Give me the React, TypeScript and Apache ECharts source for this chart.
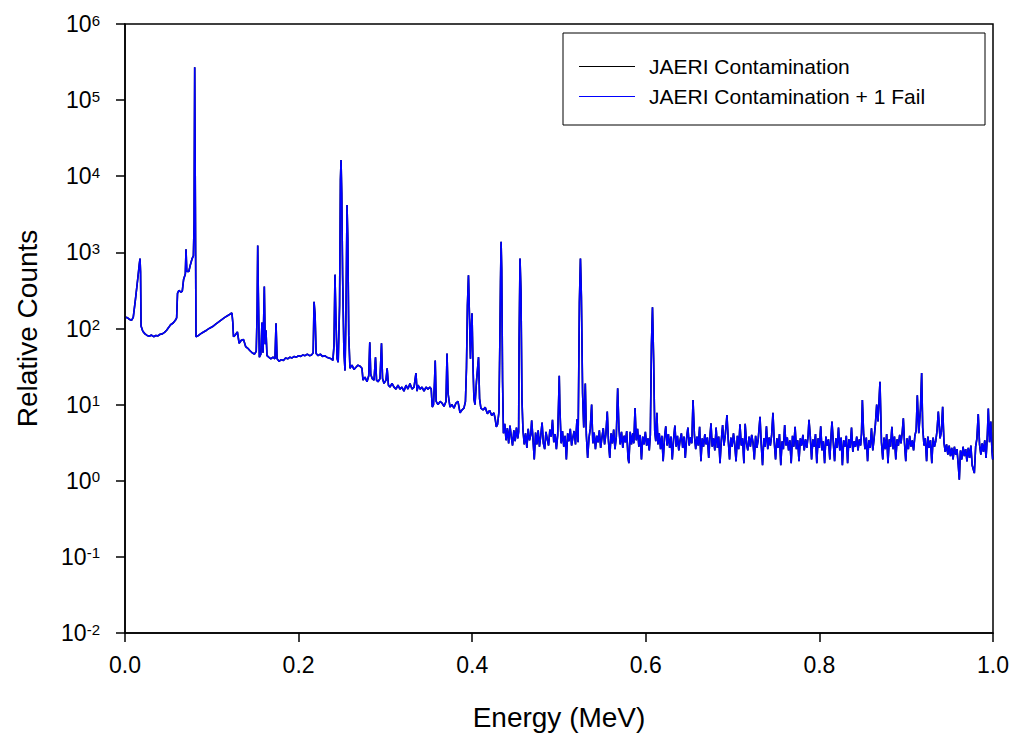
import React, { useEffect, useRef } from "react";
import * as echarts from "echarts";

const seriesNames = ["JAERI Contamination", "JAERI Contamination + 1 Fail"];
const xAxisTitle = "Energy (MeV)";
const yAxisTitle = "Relative Counts";

// Energy (MeV), relative counts — low-energy part of the spectrum
const lowEnergyPart: [number, number][] = [
  [0.001, 140], [0.003, 138], [0.0055, 131], [0.0075, 128], [0.0095, 140], [0.012, 240], [0.0145, 430], [0.0165, 700],
  [0.0173, 830], [0.0179, 560], [0.0185, 108], [0.0205, 92], [0.023, 85], [0.0255, 81], [0.028, 79], [0.0305, 82],
  [0.033, 78], [0.0355, 81], [0.038, 80], [0.0405, 84], [0.043, 85], [0.0455, 89], [0.048, 95], [0.05, 102],
  [0.0525, 112], [0.0555, 118], [0.058, 128], [0.0595, 138], [0.0605, 290], [0.062, 316], [0.0645, 300], [0.066, 310],
  [0.0675, 440], [0.0695, 520], [0.0703, 1100], [0.0712, 560], [0.0735, 560], [0.0755, 700], [0.0772, 820], [0.0788, 900],
  [0.0796, 2400], [0.0803, 270000], [0.0811, 4000], [0.0818, 78], [0.084, 80], [0.087, 85], [0.0905, 90], [0.094, 95],
  [0.0975, 101], [0.101, 106], [0.1045, 114], [0.108, 122], [0.1115, 131], [0.115, 140], [0.1185, 148], [0.1215, 156],
  [0.1232, 160], [0.1242, 120], [0.125, 78], [0.127, 82], [0.1295, 90], [0.1315, 64], [0.134, 70], [0.1365, 72],
  [0.139, 58], [0.1415, 55], [0.144, 51], [0.1465, 48], [0.149, 46], [0.1512, 50], [0.1522, 160], [0.1529, 1230],
  [0.1536, 300], [0.1548, 42], [0.1565, 46], [0.1578, 120], [0.159, 48], [0.1605, 356], [0.1615, 62], [0.1624, 95],
  [0.1636, 44], [0.1656, 42], [0.168, 40], [0.1705, 42], [0.1728, 40], [0.174, 117], [0.1752, 40], [0.1775, 37],
  [0.18, 39], [0.1825, 38], [0.185, 41], [0.1875, 40], [0.19, 42], [0.1925, 41], [0.195, 43], [0.1975, 42],
  [0.2, 44], [0.2025, 43], [0.205, 45], [0.2075, 44], [0.21, 46], [0.2125, 44], [0.215, 45], [0.2168, 48],
  [0.2178, 225], [0.219, 150], [0.2202, 47], [0.2225, 44], [0.225, 46], [0.2275, 43], [0.23, 44], [0.2325, 42],
  [0.235, 41], [0.2375, 40], [0.2395, 38], [0.2408, 60], [0.2419, 510], [0.2431, 120], [0.2444, 40], [0.2456, 36],
  [0.2472, 200], [0.2482, 9000], [0.2489, 16300], [0.2497, 6000], [0.2507, 500], [0.2522, 50], [0.2535, 28], [0.2547, 200],
  [0.2558, 4200], [0.2567, 1500], [0.2578, 80], [0.2592, 30], [0.2615, 33], [0.2638, 29], [0.2661, 31], [0.2684, 33],
  [0.2707, 32], [0.273, 30], [0.2742, 21], [0.2765, 23], [0.2788, 20], [0.2808, 24], [0.282, 66], [0.2831, 25],
  [0.2848, 22], [0.2869, 21], [0.2886, 42], [0.2898, 21], [0.2915, 20], [0.2938, 22], [0.2955, 64], [0.2967, 22],
  [0.2984, 19], [0.3007, 21], [0.302, 30], [0.3035, 18], [0.3053, 17], [0.3076, 19], [0.3099, 17], [0.3122, 16],
  [0.3145, 18], [0.3168, 16], [0.319, 17], [0.3214, 15], [0.3237, 18], [0.326, 16], [0.3283, 19], [0.3306, 16],
  [0.333, 17], [0.3352, 26], [0.3365, 15], [0.3376, 18], [0.34, 16], [0.3422, 17], [0.3445, 15], [0.3468, 17],
  [0.349, 16], [0.3514, 17], [0.3528, 16], [0.354, 9.3], [0.3554, 10], [0.3566, 20], [0.3574, 38], [0.3585, 11],
  [0.3606, 10], [0.363, 11], [0.3652, 10.5], [0.3675, 9.5], [0.3698, 11], [0.371, 47], [0.3722, 14], [0.3744, 9.3],
  [0.3767, 10], [0.379, 9], [0.3813, 10.5], [0.3836, 11], [0.386, 7.8], [0.3882, 8.5], [0.3905, 9], [0.3922, 11],
  [0.3934, 30], [0.3945, 200], [0.3957, 500], [0.3968, 150], [0.398, 40], [0.3989, 100], [0.3998, 158], [0.401, 30],
  [0.402, 12], [0.4032, 10], [0.4049, 20], [0.4073, 42], [0.4085, 12], [0.41, 9], [0.4125, 8.5], [0.415, 9.2],
  [0.4175, 7.6], [0.42, 8.4], [0.4225, 7.2], [0.425, 7.8], [0.4265, 6.5], [0.4278, 5.1], [0.4292, 5.5], [0.4308, 8],
  [0.4318, 60], [0.4326, 400], [0.4333, 1380], [0.434, 600], [0.435, 20],
];

// Energy (MeV), relative counts — high-energy part of the spectrum
const highEnergyPart: [number, number][] = [
  [0.436, 4.2], [0.4375, 5.6], [0.439, 3.4], [0.4405, 4.9], [0.442, 3.1], [0.4435, 5.3], [0.445, 3.8], [0.4465, 2.9],
  [0.448, 4.6], [0.4495, 3.3], [0.451, 5.0], [0.4525, 3.6], [0.4535, 4.4], [0.454, 60], [0.4551, 830], [0.4562, 300],
  [0.4573, 12], [0.4585, 4.6], [0.46, 3.0], [0.4615, 4.2], [0.463, 2.7], [0.4645, 4.8], [0.466, 3.4], [0.4675, 4.0],
  [0.4685, 6.2], [0.47, 3.6], [0.4715, 1.9], [0.473, 4.3], [0.4745, 3.0], [0.476, 4.6], [0.4775, 2.8], [0.479, 3.9],
  [0.4805, 5.8], [0.482, 3.1], [0.4835, 2.6], [0.485, 4.4], [0.4865, 3.5], [0.488, 2.9], [0.4895, 4.7], [0.491, 3.8],
  [0.4925, 6.3], [0.494, 3.2], [0.4955, 4.1], [0.497, 2.6], [0.4985, 4.0], [0.4998, 14], [0.5003, 24], [0.501, 9],
  [0.5025, 3.1], [0.504, 4.5], [0.5055, 2.8], [0.507, 3.9], [0.5085, 1.9], [0.51, 4.2], [0.5115, 3.3], [0.513, 4.8],
  [0.5145, 2.9], [0.516, 3.7], [0.5175, 4.5], [0.519, 3.0], [0.5207, 6.4], [0.522, 3.2], [0.5235, 220], [0.5247, 830],
  [0.5258, 260], [0.5272, 14], [0.5285, 5], [0.5303, 19], [0.5315, 4.0], [0.533, 2.0], [0.5345, 3.6], [0.536, 4.8],
  [0.5376, 10], [0.539, 3.1], [0.5405, 4.3], [0.542, 2.6], [0.5435, 3.9], [0.545, 3.2], [0.5465, 4.6], [0.548, 2.7],
  [0.5495, 3.7], [0.551, 4.9], [0.5525, 3.0], [0.554, 4.1], [0.5556, 8.1], [0.557, 3.3], [0.5585, 2.0], [0.56, 4.2],
  [0.5615, 3.1], [0.563, 4.7], [0.5645, 2.6], [0.566, 3.8], [0.5676, 16.4], [0.569, 5], [0.5705, 3.0], [0.572, 4.4],
  [0.5735, 2.7], [0.575, 3.9], [0.5765, 3.2], [0.578, 4.5], [0.5795, 2.0], [0.5805, 1.7], [0.582, 4.4], [0.5835, 3.0],
  [0.585, 4.2], [0.5862, 3.1], [0.5876, 9], [0.589, 3.4], [0.5905, 4.8], [0.592, 2.8], [0.5935, 4.0], [0.595, 1.9],
  [0.5965, 3.8], [0.598, 3.0], [0.5995, 4.4], [0.601, 2.9], [0.6025, 3.6], [0.604, 2.5], [0.6052, 4.0], [0.6065, 60],
  [0.6077, 190], [0.609, 40], [0.6103, 4.5], [0.6115, 3.3], [0.6128, 7.8], [0.614, 3.0], [0.6155, 4.2], [0.617, 2.6],
  [0.6185, 3.9], [0.62, 1.8], [0.6215, 3.6], [0.623, 5.2], [0.6245, 2.9], [0.626, 4.1], [0.6275, 2.7], [0.629, 3.8],
  [0.6305, 1.9], [0.632, 3.5], [0.6335, 5.3], [0.635, 2.8], [0.6365, 3.9], [0.638, 2.5], [0.6395, 3.4], [0.641, 4.2],
  [0.6425, 2.7], [0.644, 3.8], [0.6455, 2.0], [0.647, 3.6], [0.6485, 5.0], [0.65, 2.9], [0.6515, 3.7], [0.653, 3.1],
  [0.6544, 11.5], [0.656, 4.0], [0.6575, 2.6], [0.659, 3.8], [0.6605, 2.9], [0.662, 5.1], [0.6635, 1.8], [0.665, 3.6],
  [0.6665, 2.8], [0.668, 4.1], [0.6695, 3.0], [0.671, 3.7], [0.6725, 2.0], [0.674, 3.9], [0.6751, 5.7], [0.6765, 2.8],
  [0.678, 3.6], [0.6795, 2.5], [0.681, 5.0], [0.6825, 2.7], [0.684, 3.8], [0.6855, 1.7], [0.687, 3.4], [0.6885, 5.4],
  [0.69, 2.9], [0.6915, 3.9], [0.6935, 7.3], [0.695, 3.4], [0.6965, 1.9], [0.698, 3.7], [0.6995, 2.8], [0.701, 4.2],
  [0.7025, 3.0], [0.704, 1.8], [0.7055, 3.9], [0.707, 2.6], [0.7085, 5.5], [0.71, 2.9], [0.7115, 3.6], [0.713, 1.7],
  [0.7145, 5.6], [0.716, 3.1], [0.7175, 2.5], [0.719, 3.8], [0.7205, 2.8], [0.722, 4.0], [0.7235, 3.2], [0.725, 1.9],
  [0.7265, 3.9], [0.728, 2.7], [0.7295, 3.5], [0.7316, 6.9], [0.733, 3.0], [0.7345, 1.6], [0.736, 3.6], [0.7375, 2.8],
  [0.739, 5.2], [0.7405, 2.6], [0.742, 3.7], [0.7435, 2.9], [0.745, 4.0], [0.7465, 7.8], [0.748, 3.2], [0.7495, 1.9],
  [0.751, 3.6], [0.7525, 2.7], [0.754, 4.1], [0.7555, 1.6], [0.757, 3.3], [0.7585, 2.6], [0.76, 5.4], [0.7615, 2.9],
  [0.763, 3.7], [0.7645, 2.5], [0.766, 3.4], [0.7675, 1.7], [0.769, 3.9], [0.7705, 2.8], [0.772, 5.1], [0.7735, 2.6],
  [0.775, 3.4], [0.7765, 1.8], [0.778, 3.6], [0.7795, 2.9], [0.781, 4.0], [0.7825, 2.5], [0.784, 3.5], [0.7855, 2.7],
  [0.787, 3.9], [0.788, 6.3], [0.7895, 3.8], [0.791, 1.9], [0.7925, 3.5], [0.794, 2.8], [0.7955, 4.1], [0.797, 1.7],
  [0.7985, 3.6], [0.8, 2.7], [0.8015, 5.2], [0.803, 2.5], [0.8045, 3.3], [0.806, 1.7], [0.8075, 3.8], [0.809, 2.9],
  [0.8105, 3.5], [0.812, 1.9], [0.8135, 4.0], [0.8145, 6.0], [0.816, 3.2], [0.8175, 1.8], [0.819, 3.6], [0.8205, 2.7],
  [0.822, 5.0], [0.8235, 2.5], [0.825, 3.7], [0.8265, 1.6], [0.828, 3.4], [0.8295, 2.8], [0.831, 3.9], [0.8325, 1.7],
  [0.834, 3.5], [0.8355, 2.7], [0.837, 5.0], [0.8385, 2.4], [0.84, 3.3], [0.8415, 2.8], [0.843, 3.8], [0.8445, 2.5],
  [0.846, 3.5], [0.8475, 2.9], [0.8485, 4.2], [0.8495, 11.5], [0.851, 4.0], [0.8525, 2.6], [0.854, 3.7], [0.8555, 1.8],
  [0.857, 3.4], [0.8585, 2.7], [0.86, 4.9], [0.8615, 2.5], [0.863, 3.6], [0.8645, 5.5], [0.866, 10], [0.8675, 6],
  [0.8698, 20], [0.8715, 3.2], [0.873, 1.9], [0.8745, 3.7], [0.876, 2.6], [0.8775, 4.1], [0.879, 1.7], [0.8805, 3.5],
  [0.882, 2.8], [0.8835, 5.1], [0.885, 2.6], [0.8865, 3.8], [0.888, 1.9], [0.8895, 3.5], [0.891, 2.9], [0.8925, 4.0],
  [0.894, 3.1], [0.8955, 4.4], [0.8967, 6.6], [0.898, 3.2], [0.8995, 1.8], [0.901, 3.6], [0.9025, 2.6], [0.904, 3.9],
  [0.9055, 2.8], [0.907, 3.4], [0.9085, 2.5], [0.91, 3.9], [0.9115, 4.6], [0.9128, 13.3], [0.9145, 4.2], [0.9165, 9],
  [0.9178, 26], [0.919, 5], [0.9205, 2.9], [0.922, 3.6], [0.9235, 1.8], [0.925, 3.8], [0.9265, 2.7], [0.928, 3.4],
  [0.9295, 1.7], [0.931, 3.7], [0.9325, 2.8], [0.934, 3.3], [0.9355, 4.5], [0.937, 8.1], [0.939, 3.6], [0.9405, 4.4],
  [0.942, 9.4], [0.9435, 3.2], [0.945, 2.4], [0.9465, 3.0], [0.948, 2.2], [0.9495, 2.9], [0.951, 2.1], [0.9525, 2.7],
  [0.954, 1.9], [0.9555, 2.8], [0.957, 2.2], [0.9585, 2.6], [0.96, 1.6], [0.9612, 1.03], [0.9625, 2.5], [0.964, 1.9],
  [0.9655, 2.8], [0.967, 2.1], [0.9685, 2.6], [0.97, 1.8], [0.9715, 2.7], [0.973, 2.0], [0.9745, 2.9], [0.976, 1.6],
  [0.9785, 1.26], [0.98, 2.8], [0.9815, 3.6], [0.983, 7.5], [0.9845, 3.0], [0.986, 2.2], [0.9875, 3.1], [0.989, 2.4],
  [0.9905, 3.4], [0.992, 2.0], [0.9935, 4.0], [0.9946, 8.9], [0.996, 3.2], [0.9975, 6.0], [0.9988, 2.5], [0.9996, 1.9],
];

const contamination = [...lowEnergyPart, ...highEnergyPart];
const contaminationPlusFail = [...lowEnergyPart, ...highEnergyPart];

const FONT = "'Liberation Sans', Arial, Helvetica, sans-serif";

export default function App() {
  const ref = useRef<HTMLDivElement>(null);
  useEffect(() => {
    if (!ref.current) return;
    const chart = echarts.init(ref.current, null, { renderer: "svg" });
    chart.setOption({
      animation: false,
      backgroundColor: "#ffffff",
      textStyle: { fontFamily: FONT },
      grid: {
        left: 125,
        right: 20,
        top: 24,
        bottom: 102,
        show: true,
        borderColor: "#000",
        borderWidth: 1.5,
        backgroundColor: "transparent",
      },
      graphic: [
        {
          type: "rect",
          z: 5,
          shape: { x: 563, y: 33, width: 422, height: 92 },
          style: { fill: "#fff", stroke: "#000", lineWidth: 1 },
        },
      ],
      legend: {
        z: 10,
        orient: "vertical",
        left: 574,
        top: 51,
        itemWidth: 56,
        itemHeight: 1,
        itemGap: 9,
        icon: "rect",
        data: seriesNames,
        textStyle: { fontSize: 21, color: "#000", fontFamily: FONT, padding: [0, 0, 0, 9] },
      },
      xAxis: {
        type: "value",
        min: 0,
        max: 1,
        interval: 0.2,
        name: xAxisTitle,
        nameLocation: "middle",
        nameGap: 70,
        nameTextStyle: { fontSize: 28, color: "#000", fontFamily: FONT },
        axisLine: { show: true, onZero: false, lineStyle: { color: "#000", width: 1.5 } },
        axisTick: { show: true, inside: false, length: 9, lineStyle: { color: "#000", width: 1.5 } },
        axisLabel: {
          fontSize: 23,
          color: "#000",
          fontFamily: FONT,
          margin: 20,
          formatter: (v: number) => v.toFixed(1),
        },
        splitLine: { show: false },
      },
      yAxis: {
        type: "log",
        logBase: 10,
        min: 0.01,
        max: 1e6,
        splitNumber: 8,
        name: yAxisTitle,
        nameLocation: "middle",
        nameGap: 84,
        nameTextStyle: { fontSize: 28, color: "#000", fontFamily: FONT },
        axisLine: { show: true, lineStyle: { color: "#000", width: 1.5 } },
        axisTick: { show: true, inside: false, length: 9, lineStyle: { color: "#000", width: 1.5 } },
        axisLabel: {
          margin: 25,
          formatter: (v: number) => `{b|10}{s|${Math.round(Math.log10(v))}}`,
          rich: {
            b: { fontSize: 23, color: "#000", fontFamily: FONT, verticalAlign: "bottom" },
            s: { fontSize: 15, color: "#000", fontFamily: FONT, verticalAlign: "top" },
          },
        },
        splitLine: { show: false },
      },
      series: [
        {
          name: seriesNames[0],
          type: "line",
          data: contamination,
          showSymbol: false,
          symbol: "none",
          color: "#000000",
          lineStyle: { color: "#000000", width: 1.6 },
        },
        {
          name: seriesNames[1],
          type: "line",
          data: contaminationPlusFail,
          showSymbol: false,
          symbol: "none",
          color: "#0000ff",
          lineStyle: { color: "#0000ff", width: 1.6 },
        },
      ],
    });
    return () => chart.dispose();
  }, []);
  return <div ref={ref} style={{ position: "fixed", left: 0, top: 0, width: 1013, height: 736 }} />;
}
